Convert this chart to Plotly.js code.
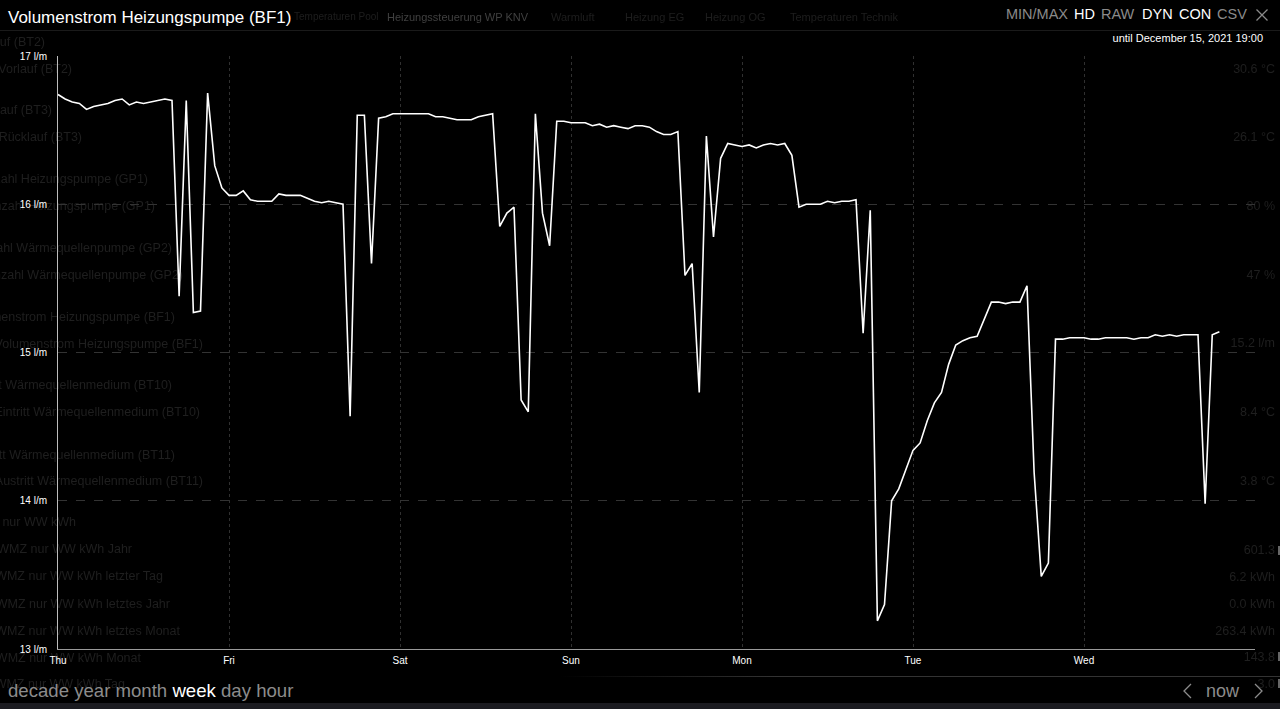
<!DOCTYPE html>
<html>
<head>
<meta charset="utf-8">
<script src="https://cdn.plot.ly/plotly-3.0.1.min.js"></script>
<style>
  html, body { margin:0; padding:0; background:#000; width:1280px; height:709px; overflow:hidden;
    font-family:"Liberation Sans", Arial, Helvetica, sans-serif; }
  #ghost { position:absolute; left:0; top:0; width:1280px; height:709px; z-index:0; }
  #chart { position:absolute; left:0; top:0; width:1280px; height:709px; z-index:1; }
  #chrome { position:absolute; left:0; top:0; width:1280px; height:709px; z-index:2; pointer-events:none; }
  .g { position:absolute; white-space:nowrap; font-size:11px; line-height:14px; color:#1d1d1d; filter:blur(0.4px); }
  .gr { position:absolute; white-space:nowrap; font-size:12.5px; line-height:16px; color:#1f1f1f; text-align:right; filter:blur(0.5px); }
  .c { position:absolute; white-space:nowrap; line-height:20px; }
</style>
</head>
<body>
<div id="ghost"></div>
<div id="chart"></div>
<div id="chrome"></div>
<script>
// ---- data (hourly samples from Thu Dec 9, 2021 00:00 until Wed Dec 15, 2021 19:00) ----
const seriesName = 'Volumenstrom Heizungspumpe (BF1)';
const startDay = 9; // December 2021
const flowValues = [
  16.74,16.71,16.69,16.68,16.64,16.66,16.67,16.68,16.70,16.71,16.67,16.69,16.68,16.69,16.70,16.71,
  16.70,15.38,16.70,15.27,15.28,16.75,16.26,16.11,
  16.06,16.06,16.09,16.03,16.02,16.02,16.02,16.07,16.06,16.06,16.06,16.04,16.02,16.01,16.02,16.01,
  16.00,14.57,16.60,16.60,15.60,16.58,16.59,16.61,
  16.61,16.61,16.61,16.61,16.61,16.59,16.59,16.58,16.57,16.57,16.57,16.59,16.60,16.61,15.85,15.94,
  15.98,14.68,14.60,16.61,15.94,15.72,16.56,16.56,
  16.55,16.55,16.55,16.53,16.54,16.52,16.53,16.52,16.51,16.53,16.53,16.52,16.49,16.47,16.47,16.49,
  15.52,15.60,14.73,16.46,15.78,16.31,16.41,16.40,
  16.39,16.40,16.38,16.40,16.41,16.40,16.41,16.33,15.98,16.00,16.00,16.00,16.02,16.01,16.02,16.02,
  16.03,15.13,15.96,13.19,13.30,14.00,14.08,14.21,
  14.34,14.39,14.54,14.66,14.73,14.92,15.05,15.08,15.10,15.11,15.22,15.34,15.34,15.33,15.34,15.34,
  15.45,14.19,13.49,13.58,15.09,15.09,15.10,15.10,
  15.10,15.09,15.09,15.10,15.10,15.10,15.10,15.09,15.10,15.10,15.12,15.11,15.12,15.11,15.12,15.12,
  15.12,13.98,15.12,15.14
];
const dayTickDates = ['2021-12-09','2021-12-10','2021-12-11','2021-12-12','2021-12-13','2021-12-14','2021-12-15'];
const dayTickLabels = ['Thu','Fri','Sat','Sun','Mon','Tue','Wed'];
const yTickVals = [13,14,15,16,17];
const yUnit = ' l/m';
const untilLabel = 'until December 15, 2021 19:00';

const pad = n => (n < 10 ? '0' : '') + n;
const flowTimes = flowValues.map((v, i) =>
  '2021-12-' + pad(startDay + Math.floor(i / 24)) + ' ' + pad(i % 24) + ':00');

// ---- ghost background texts (from underlying view) ----
const ghostLeftTexts = [
  ['Vorlauf (BT2)', 45, 42], ['Vorlauf (BT2)', 72, 69],
  ['Rücklauf (BT3)', 52, 110], ['Rücklauf (BT3)', 82, 137],
  ['Drehzahl Heizungspumpe (GP1)', 148, 179], ['Drehzahl Heizungspumpe (GP1)', 155, 206],
  ['Drehzahl Wärmequellenpumpe (GP2)', 172, 248], ['Drehzahl Wärmequellenpumpe (GP2)', 183, 275],
  ['Volumenstrom Heizungspumpe (BF1)', 175, 317], ['Volumenstrom Heizungspumpe (BF1)', 203, 344],
  ['Eintritt Wärmequellenmedium (BT10)', 172, 385], ['Eintritt Wärmequellenmedium (BT10)', 200, 412],
  ['Austritt Wärmequellenmedium (BT11)', 175, 455], ['Austritt Wärmequellenmedium (BT11)', 203, 481],
  ['WMZ nur WW kWh', 76, 522], ['WMZ nur WW kWh Jahr', 132, 549],
  ['WMZ nur WW kWh letzter Tag', 163, 576], ['WMZ nur WW kWh letztes Jahr', 170, 604],
  ['WMZ nur WW kWh letztes Monat', 180, 631], ['WMZ nur WW kWh Monat', 141, 658],
  ['WMZ nur WW kWh Tag', 125, 684]
];
const ghostRightTexts = [
  ['30.6 °C', 69], ['26.1 °C', 137], ['80 %', 206], ['47 %', 275], ['15.2 l/m', 343],
  ['8.4 °C', 412], ['3.8 °C', 481], ['601.3', 550], ['6.2 kWh', 577], ['0.0 kWh', 604],
  ['263.4 kWh', 631], ['143.8', 657], ['3.0', 684]
];
const ghostTabs = [
  ['Temperaturen Pool', 294, '#1e1e1e', 10], ['Heizungssteuerung WP KNV', 387, '#404040', 11],
  ['Warmluft', 551, '#1e1e1e', 11], ['Heizung EG', 625, '#1e1e1e', 11],
  ['Heizung OG', 705, '#1e1e1e', 11], ['Temperaturen Technik', 790, '#1e1e1e', 11]
];

const ghost = document.getElementById('ghost');
ghostLeftTexts.forEach(([t, right, y]) => {
  const d = document.createElement('div');
  d.className = 'gr'; d.textContent = t;
  d.style.right = (1280 - right) + 'px'; d.style.top = (y - 8) + 'px';
  ghost.appendChild(d);
});
ghostRightTexts.forEach(([t, y]) => {
  const d = document.createElement('div');
  d.className = 'gr'; d.textContent = t;
  d.style.right = '5px'; d.style.top = (y - 8) + 'px';
  ghost.appendChild(d);
});
ghostTabs.forEach(([t, x, col, fs]) => {
  const d = document.createElement('div');
  d.className = 'g'; d.textContent = t; d.style.left = x + 'px'; d.style.top = '10px';
  d.style.color = col; d.style.fontSize = fs + 'px';
  ghost.appendChild(d);
});
// right edge small marks
[550, 656, 683].forEach(y => {
  const d = document.createElement('div');
  d.style.cssText = 'position:absolute;left:1278px;width:2px;height:9px;background:#666;top:' + (y - 4) + 'px';
  ghost.appendChild(d);
});
// header separator and bottom strips
ghost.insertAdjacentHTML('beforeend',
  '<div style="position:absolute;left:0;top:30px;width:1280px;height:1px;background:#1a1a1a"></div>' +
  '<div style="position:absolute;left:560px;top:676px;width:720px;height:1px;background:linear-gradient(90deg,rgba(60,60,60,0),#333 30%,#333)"></div>' +
  '<div style="position:absolute;left:0;top:703px;width:1280px;height:6px;background:#1b1b20"></div>');

// ---- chrome (controls) ----
const chrome = document.getElementById('chrome');
const topControls = [
  ['MIN/MAX', 1006, '#8a8a8a'], ['HD', 1074, '#ffffff'], ['RAW', 1101, '#8a8a8a'],
  ['DYN', 1142, '#ffffff'], ['CON', 1179, '#ffffff'], ['CSV', 1217, '#8a8a8a']
];
topControls.forEach(([t, x, col]) => {
  const d = document.createElement('div');
  d.className = 'c'; d.textContent = t;
  d.style.cssText += 'left:' + x + 'px;top:4px;font-size:14.5px;color:' + col;
  chrome.appendChild(d);
});
chrome.insertAdjacentHTML('beforeend',
  '<svg style="position:absolute;left:1255px;top:8px" width="14" height="14"><path d="M1.5 1.5 L12.5 12.5 M12.5 1.5 L1.5 12.5" stroke="#8a8a8a" stroke-width="1.3" fill="none"/></svg>');
const until = document.createElement('div');
until.className = 'c'; until.textContent = untilLabel;
until.style.cssText += 'right:17px;top:28px;font-size:11px;color:#fff';
chrome.appendChild(until);

const rangeButtons = ['decade', 'year', 'month', 'week', 'day', 'hour'];
const nav = document.createElement('div');
nav.className = 'c';
nav.style.cssText += 'left:8px;top:680px;font-size:18.6px;line-height:22px;color:#8c8c8c';
nav.innerHTML = rangeButtons.map(b => '<span style="color:' + (b === 'week' ? '#fff' : '#8c8c8c') + '">' + b + '</span>').join(' ');
chrome.appendChild(nav);
chrome.insertAdjacentHTML('beforeend',
  '<svg style="position:absolute;left:1181px;top:682px" width="14" height="18"><path d="M10 2 L3 9 L10 16" stroke="#8c8c8c" stroke-width="1.3" fill="none"/></svg>' +
  '<div class="c" style="left:1206px;top:680px;font-size:18px;line-height:22px;color:#8c8c8c">now</div>' +
  '<svg style="position:absolute;left:1251px;top:682px" width="14" height="18"><path d="M4 2 L11 9 L4 16" stroke="#8c8c8c" stroke-width="1.3" fill="none"/></svg>');

// ---- plot ----
const fontFam = '"Liberation Sans", Arial, Helvetica, sans-serif';
const trace = {
  x: flowTimes, y: flowValues, type: 'scatter', mode: 'lines', name: seriesName,
  line: { color: '#ffffff', width: 1.6 }, hoverinfo: 'x+y'
};
const layout = {
  width: 1280, height: 709,
  margin: { l: 58, r: 25, t: 56, b: 60, pad: 0 },
  paper_bgcolor: 'rgba(0,0,0,0)', plot_bgcolor: 'rgba(0,0,0,0)',
  showlegend: false,
  font: { family: fontFam, color: '#ffffff', size: 10 },
  title: {
    text: seriesName, xref: 'container', yref: 'container',
    x: 8 / 1280, xanchor: 'left', y: 1 - 17 / 709, yanchor: 'middle',
    font: { family: fontFam, size: 17, color: '#ffffff' }
  },
  xaxis: {
    type: 'date', range: ['2021-12-09 00:00', '2021-12-16 00:00'],
    tickmode: 'array', tickvals: dayTickDates, ticktext: dayTickLabels,
    showgrid: true, gridcolor: '#303030', griddash: 'dot', gridwidth: 1,
    showline: true, linecolor: '#9a9a9a', linewidth: 1,
    zeroline: false, ticks: '', ticklabelstandoff: 2,
    tickfont: { size: 10, color: '#ffffff', family: fontFam }, fixedrange: true
  },
  yaxis: {
    range: [13, 17], tickmode: 'array', tickvals: yTickVals,
    ticktext: yTickVals.map(v => v + yUnit),
    showgrid: true, gridcolor: '#333333', griddash: 'dash', gridwidth: 1,
    showline: true, linecolor: '#bdbdbd', linewidth: 1,
    zeroline: false, ticks: '', ticklabelstandoff: 8,
    tickfont: { size: 10, color: '#ffffff', family: fontFam }, fixedrange: true
  }
};
Plotly.newPlot('chart', [trace], layout, { displayModeBar: false, staticPlot: true });
</script>
</body>
</html>
